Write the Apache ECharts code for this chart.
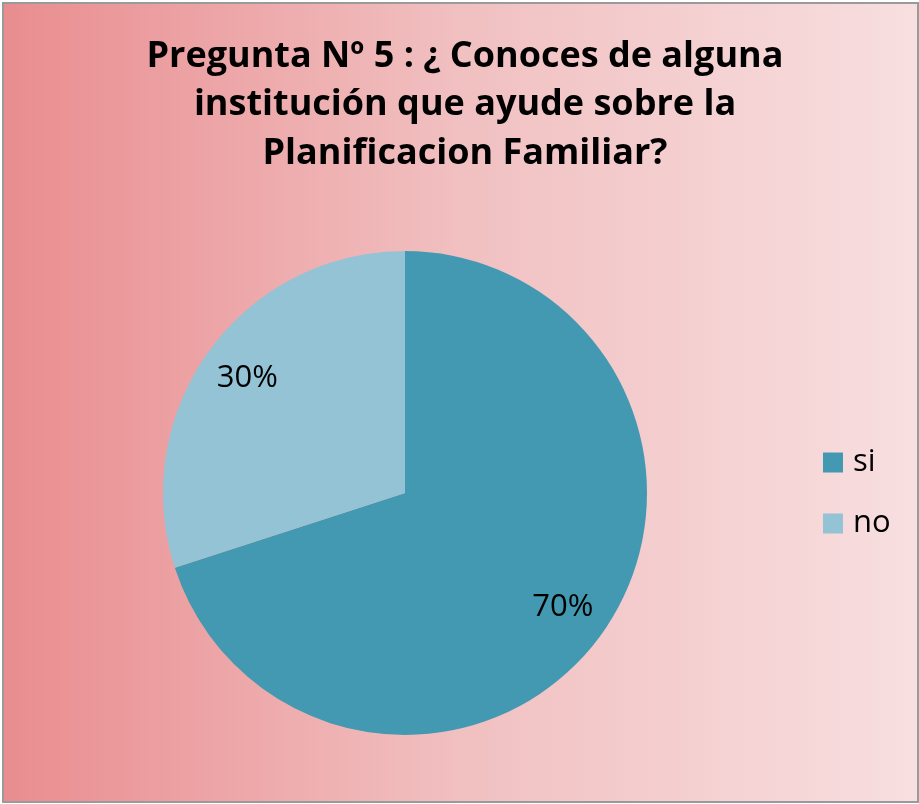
<!DOCTYPE html>
<html><head><meta charset="utf-8">
<script src="https://cdn.jsdelivr.net/npm/echarts@6/dist/echarts.min.js"></script>
<style>html,body{margin:0;padding:0;background:#fff}#c{width:919px;height:804px}</style>
</head><body><div id="c"></div>
<script>
const categories = ['si', 'no'];
const values = [70, 30];
const colors = ['#4399B1', '#93C3D5'];
const titleText = 'Pregunta Nº 5 : ¿ Conoces de alguna\ninstitución que ayude sobre la\nPlanificacion Familiar?';

const data = categories.map((c, i) => ({ name: c, value: values[i], itemStyle: { color: colors[i] } }));
const chart = echarts.init(document.getElementById('c'), null, { renderer: 'canvas' });
chart.setOption({
  animation: false,
  graphic: [{
    type: 'rect', left: 2, top: 2, z: -10,
    shape: { width: 915, height: 799 },
    style: {
      fill: new echarts.graphic.LinearGradient(0, 0, 1, 0, [
        { offset: 0, color: '#E98D8F' },
        { offset: 0.5, color: '#F1C0C1' },
        { offset: 1, color: '#F8DFE0' }
      ]),
      stroke: '#9A9A9A', lineWidth: 2
    }
  }],
  title: {
    text: titleText, left: 460, top: 27, textAlign: 'center',
    textStyle: { fontFamily: 'Open Sans', fontWeight: 'bold', fontSize: 36, lineHeight: 48.5, color: '#000' }
  },
  legend: {
    orient: 'vertical', left: 823, top: 447, itemGap: 30, padding: 0,
    itemWidth: 20, itemHeight: 20, icon: 'rect',
    data: categories,
    textStyle: { fontFamily: 'Open Sans', fontSize: 31, color: '#000', padding: [0, 0, 0, 5] }
  },
  series: [{
    type: 'pie', center: [405, 493], radius: [0, 242], startAngle: 90, clockwise: true,
    label: { show: false }, labelLine: { show: false }, silent: true,
    data: data
  }, {
    type: 'pie', center: [405, 493], radius: [0, 384], startAngle: 90, clockwise: true,
    silent: true, legendHoverLink: false,
    itemStyle: { color: 'rgba(0,0,0,0)' },
    label: { show: true, position: 'inside', formatter: '{d}%', fontFamily: 'Open Sans', fontSize: 31, color: '#000' },
    labelLine: { show: false },
    data: categories.map((c, i) => ({ name: c + '_lbl', value: values[i] }))
  }]
});
</script></body></html>
